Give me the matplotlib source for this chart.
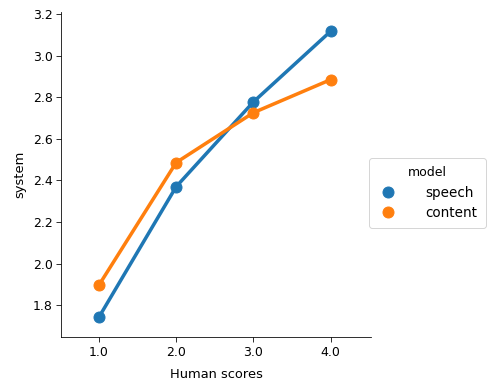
import matplotlib
matplotlib.use("Agg")
from matplotlib import pyplot as plt

# human score categories and mean system scores per model
human_scores = ["1.0", "2.0", "3.0", "4.0"]
speech = [1.742, 2.370, 2.778, 3.118]
content = [1.896, 2.486, 2.726, 2.885]
models = ["speech", "content"]
colors = ["#1f77b4", "#ff7f0e"]

fig = plt.figure(figsize=(491 / 72, 392 / 72), dpi=72)
ax = fig.add_axes([61 / 491, 55 / 392, 310 / 491, 325 / 392])

x = range(len(human_scores))
for name, vals, c in zip(models, [speech, content], colors):
    ax.plot(x, vals, color=c, lw=3.5, marker="o", ms=11, label=name, zorder=3)

ax.set_xticks(list(x))
ax.set_xticklabels(human_scores)
ax.set_xlim(-0.49, 3.52)
ax.set_ylim(1.647, 3.21)
ax.set_yticks([1.8, 2.0, 2.2, 2.4, 2.6, 2.8, 3.0, 3.2])
ax.set_xlabel("Human scores", fontsize=13, labelpad=10)
ax.set_ylabel("system", fontsize=13, labelpad=6)
ax.tick_params(labelsize=12.5, length=5)
for s in ["top", "right"]:
    ax.spines[s].set_visible(False)

handles = [plt.Line2D([], [], ls="", marker="o", ms=11, color=c) for c in colors]
fig.legend(handles, models, title="model", loc="center left",
           bbox_to_anchor=(369 / 491, 1 - 193 / 392), fontsize=13.5,
           title_fontsize=12.5, handletextpad=2.0, frameon=True,
           borderpad=0.6, labelspacing=0.45, borderaxespad=0,
           handlelength=1.6)

fig.savefig("out.png", dpi=72)
